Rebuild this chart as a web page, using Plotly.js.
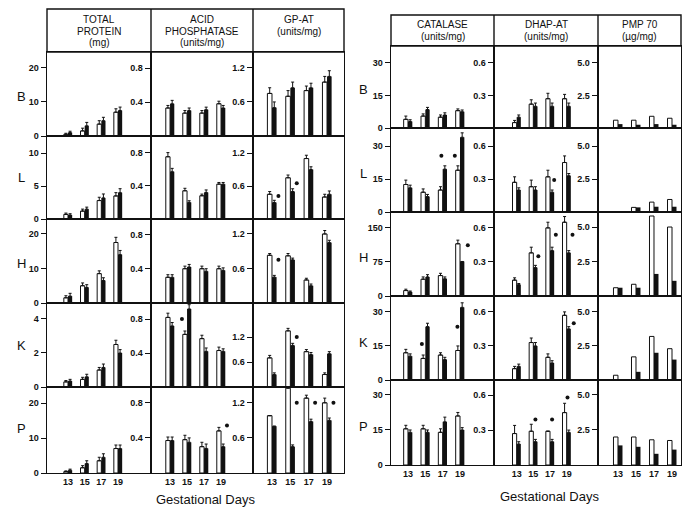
<!DOCTYPE html>
<html><head><meta charset="utf-8">
<script src="https://cdn.plot.ly/plotly-3.0.1.min.js"></script>
<style>html,body{margin:0;padding:0;background:#fff}#c{width:682px;height:508px}</style>
</head><body><div id="c"></div><script>
const W=682,H=508;
const days=[13,15,17,19];
const dayLabels=['13','15','17','19'];
const tissues=['B','L','H','K','P'];

// TOTAL PROTEIN (mg)
const protWhite=[[0.5,1.5,3.5,7],[0.7,1.2,2.8,3.5],[1.5,5,8.5,17.5],[0.3,0.45,1.0,2.5],[0.4,1.5,3.5,7]];
const protBlack=[[1.0,3,4.5,7.5],[0.6,1.5,3.2,4.0],[2,4.5,6.5,14],[0.35,0.6,1.15,2.0],[0.8,2.7,4.5,7]];
const protErrW=[[0.3,0.8,1,1],[0.2,0.3,0.5,0.5],[0.6,0.8,0.8,1.5],[0.08,0.12,0.15,0.25],[0.2,0.6,1,1]];
const protErrB=[[0.4,1,1,1],[0.2,0.3,0.6,0.6],[0.8,0.8,0.8,1.2],[0.1,0.15,0.2,0.2],[0.3,0.8,1,1]];
const protStars=[];
const protTicks=[[0,10,20],[0,5,10],[0,10,20],[0,2,4],[0,10,20]];
const protTickText=[['0','10','20'],['0','5','10'],['0','10','20'],['0','2','4'],['0','10','20']];

// ACID PHOSPHATASE (units/mg)
const apWhite=[[0.33,0.27,0.27,0.38],[0.75,0.34,0.28,0.42],[0.30,0.40,0.40,0.40],[0.82,0.62,0.57,0.43],[0.37,0.38,0.30,0.48]];
const apBlack=[[0.38,0.30,0.31,0.33],[0.57,0.20,0.32,0.42],[0.30,0.42,0.37,0.38],[0.72,0.92,0.42,0.42],[0.37,0.35,0.28,0.30]];
const apErrW=[[0.03,0.03,0.03,0.03],[0.05,0.03,0.02,0.02],[0.03,0.03,0.03,0.03],[0.05,0.04,0.04,0.04],[0.04,0.05,0.05,0.04]];
const apErrB=[[0.04,0.03,0.03,0.03],[0.04,0.02,0.03,0.02],[0.03,0.03,0.03,0.03],[0.04,0.05,0.04,0.03],[0.04,0.05,0.05,0.03]];
const apStars=[[3,15,-0.6,0.8],[4,19,0.7,0.54]];
const apTicks=[0.4,0.8];
const apTickText=['0.4','0.8'];

// GP-AT (units/mg)
const gpWhite=[[0.75,0.70,0.80,0.95],[0.45,0.75,1.10,0.40],[0.83,0.82,0.40,1.20],[0.70,1.35,0.85,0.30],[0.98,1.45,1.28,1.20]];
const gpBlack=[[0.50,0.85,0.85,1.05],[0.30,0.50,0.90,0.45],[0.45,0.75,0.30,1.05],[0.30,1.00,0.78,0.80],[0.80,0.45,0.88,0.90]];
const gpErrW=[[0.10,0.10,0.08,0.10],[0.05,0.05,0.06,0.05],[0.03,0.04,0.03,0.06],[0.06,0.06,0.05,0.04],[0.00,0.05,0.05,0.08]];
const gpErrB=[[0.10,0.10,0.08,0.10],[0.04,0.05,0.05,0.06],[0.03,0.03,0.03,0.04],[0.04,0.05,0.05,0.05],[0.00,0.03,0.04,0.04]];
const gpStars=[[1,13,0.7,0.42],[1,15,0.7,0.65],[2,13,0.7,0.75],[3,15,0.7,1.2],[4,15,0.7,1.2],[4,17,0.7,1.2],[4,19,0.7,1.2]];
const gpTicks=[0.6,1.2];
const gpTickText=['0.6','1.2'];

// CATALASE (units/mg)
const catWhite=[[4,5.5,5,8],[12.5,9,10,19],[12,37,45,115],[12,9.5,11,13],[15.5,15.5,14,21]];
const catBlack=[[3,8.5,6,7.5],[11,7,19.5,34],[9,42,38,76],[10.5,23.5,9,32],[14,14,18.5,15]];
const catErrW=[[1.5,1,1,0.8],[2,1.5,1.5,2],[3,5,5,8],[1.5,1.5,1,2],[1.5,1.5,1.5,1.5]];
const catErrB=[[0.8,1,1,0.8],[1.2,1,1.5,2],[2,5,4,0],[1,1.5,1,2],[1,1,2,1]];
const catStars=[[1,17,-0.15,25.6],[1,19,-0.6,25.6],[2,19,0.9,112],[3,15,-0.4,15.9],[3,19,-0.3,23.5]];
const catTicks=[[0,15,30],[0,15,30],[0,75,150],[0,15,30],[0,15,30]];
const catTickText=[['0','15','30'],['0','15','30'],['0','75','150'],['0','15','30'],['0','15','30']];

// DHAP-AT (units/mg)
const dhWhite=[[0.05,0.22,0.27,0.27],[0.27,0.23,0.32,0.45],[0.14,0.38,0.60,0.65],[0.10,0.33,0.20,0.57],[0.27,0.29,0.29,0.45]];
const dhBlack=[[0.10,0.20,0.20,0.20],[0.20,0.20,0.18,0.33],[0.10,0.25,0.40,0.38],[0.12,0.30,0.15,0.45],[0.18,0.20,0.20,0.28]];
const dhErrW=[[0.02,0.04,0.05,0.04],[0.05,0.06,0.06,0.06],[0.02,0.05,0.05,0.05],[0.02,0.04,0.03,0.03],[0.07,0.06,0.00,0.08]];
const dhErrB=[[0.02,0.03,0.03,0.03],[0.02,0.03,0.02,0.02],[0.01,0.02,0.03,0.02],[0.02,0.03,0.02,0.02],[0.02,0.02,0.02,0.02]];
const dhStars=[[1,17,0.5,0.29],[2,15,0.6,0.35],[2,17,0.7,0.54],[2,19,0.7,0.54],[3,19,0.85,0.5],[4,15,0.25,0.39],[4,17,0.25,0.39],[4,19,0.1,0.58]];
const dhTicks=[0.3,0.6];
const dhTickText=['0.3','0.6'];

// PMP 70 (µg/mg)
const pmWhite=[[0.6,0.6,0.9,0.75],[0,0.35,0.75,0.95],[0.6,0.85,5.8,5.0],[0.35,1.7,3.2,2.3],[2.0,2.0,1.8,1.75]];
const pmBlack=[[0.3,0.25,0.3,0.25],[0,0.35,0.4,0.4],[0.6,0.6,1.6,1.1],[0,0.6,2.0,1.5],[1.4,1.3,0.8,1.1]];
const pmStars=[];
const pmTicks=[2.5,5.0];
const pmTickText=['2.5','5.0'];

// headers
const protHeader=['TOTAL','PROTEIN','(mg)'];
const apHeader=['ACID','PHOSPHATASE','(units/mg)'];
const gpHeader=['GP-AT','(units/mg)'];
const catHeader=['CATALASE','(units/mg)'];
const dhHeader=['DHAP-AT','(units/mg)'];
const pmHeader=['PMP 70','(µg/mg)'];
const xTitle='Gestational Days';

// layout geometry (pixels)
const leftX=[47,151,253,344], leftRows=[52,136,219,303,387,473], leftHead=[9,52];
const rightX=[391,494,598,681], rightRows=[46,128,212,296,380,465], rightHead=[15,46];
const xRanges=[[10.48,22.96],[10.76,22.76],[10.93,20.85],[11.04,22.92],[10.28,22.76],[10.78,20.0]];
const yTops=[[24.7,12.6,24.3,4.94,24.6],[0.99,1.0,0.98,0.99,0.98],[1.48,1.51,1.46,2.02,1.47],
             [37.8,38.2,185,37,36.4],[0.756,0.764,0.74,0.74,0.73],[6.3,6.37,6.09,6.17,6.07]];

const measures=[
 {w:protWhite,b:protBlack,ew:protErrW,eb:protErrB,st:protStars,tv:protTicks,tt:protTickText,perRow:true,head:protHeader},
 {w:apWhite,b:apBlack,ew:apErrW,eb:apErrB,st:apStars,tv:apTicks,tt:apTickText,perRow:false,head:apHeader},
 {w:gpWhite,b:gpBlack,ew:gpErrW,eb:gpErrB,st:gpStars,tv:gpTicks,tt:gpTickText,perRow:false,head:gpHeader},
 {w:catWhite,b:catBlack,ew:catErrW,eb:catErrB,st:catStars,tv:catTicks,tt:catTickText,perRow:true,head:catHeader},
 {w:dhWhite,b:dhBlack,ew:dhErrW,eb:dhErrB,st:dhStars,tv:dhTicks,tt:dhTickText,perRow:false,head:dhHeader},
 {w:pmWhite,b:pmBlack,ew:null,eb:null,st:pmStars,tv:pmTicks,tt:pmTickText,perRow:false,head:pmHeader}
];

const FONT='Liberation Sans, Arial, Helvetica, sans-serif';
const px=x=>x/W, py=y=>1-y/H;
const data=[], layout={
  width:W,height:H,margin:{l:0,r:0,t:0,b:0},paper_bgcolor:'#fff',plot_bgcolor:'#fff',
  showlegend:false,barmode:'group',bargap:0.5,bargroupgap:0,
  font:{family:FONT,color:'#111'},shapes:[],annotations:[]
};
const zeros=[0,0,0,0];
measures.forEach((m,k)=>{
  const right=k>=3, col=k%3;
  const xe=right?rightX:leftX, rows=right?rightRows:leftRows;
  for(let r=0;r<5;r++){
    const idx=k*5+r+1, s=idx===1?'':String(idx);
    layout['xaxis'+s]={domain:[px(xe[col]),px(xe[col+1])],anchor:'y'+s,range:xRanges[k],
      showline:true,mirror:true,linecolor:'#111',linewidth:1.4,showgrid:false,zeroline:false,ticks:'',
      tickvals:days,ticktext:dayLabels,showticklabels:r===4,tickfont:{size:9,family:FONT,weight:'bold'},fixedrange:true};
    layout['yaxis'+s]={domain:[py(rows[r+1]),py(rows[r])],anchor:'x'+s,range:[0,yTops[k][r]],
      showline:true,mirror:true,linecolor:'#111',linewidth:1.4,showgrid:false,zeroline:false,
      ticks:'outside',ticklen:5,tickwidth:1,tickcolor:'#111',
      tickvals:m.perRow?m.tv[r]:m.tv,ticktext:m.perRow?m.tt[r]:m.tt,
      tickfont:{size:9,family:FONT,weight:'bold'},fixedrange:true};
    const eW=m.ew?{type:'data',array:m.ew[r],arrayminus:zeros,symmetric:false,color:'#111',thickness:1,width:1.5}:{visible:false};
    const eB=m.eb?{type:'data',array:m.eb[r],arrayminus:zeros,symmetric:false,color:'#111',thickness:1,width:1.5}:{visible:false};
    data.push({type:'bar',x:days,y:m.w[r],xaxis:'x'+s,yaxis:'y'+s,marker:{color:'#fff',line:{color:'#111',width:1}},error_y:eW,hoverinfo:'skip'});
    data.push({type:'bar',x:days,y:m.b[r],xaxis:'x'+s,yaxis:'y'+s,marker:{color:'#111',line:{color:'#111',width:0}},error_y:eB,hoverinfo:'skip'});
    const st=m.st.filter(a=>a[0]===r);
    if(st.length) data.push({type:'scatter',mode:'markers',x:st.map(a=>a[1]+a[2]),y:st.map(a=>a[3]),xaxis:'x'+s,yaxis:'y'+s,
      marker:{symbol:'circle',size:4,color:'#111'},hoverinfo:'skip',cliponaxis:false});
  }
  // header
  const cx=(xe[col]+xe[col+1])/2;
  const lineY=right?[24,37]:(m.head.length===3?[19,31,43]:[19,31]);
  m.head.forEach((t,i)=>{
    layout.annotations.push({xref:'paper',yref:'paper',x:px(cx),y:py(lineY[i]),text:t,showarrow:false,
      xanchor:'center',yanchor:'middle',font:{size:10,family:FONT,color:'#111'}});
  });
});
// header boxes
[[leftX,leftHead],[rightX,rightHead]].forEach(([xe,hd])=>{
  layout.shapes.push({type:'rect',xref:'paper',yref:'paper',x0:px(xe[0]),x1:px(xe[3]),y0:py(hd[1]),y1:py(hd[0]),line:{color:'#111',width:1.4}});
  [1,2].forEach(i=>layout.shapes.push({type:'line',xref:'paper',yref:'paper',x0:px(xe[i]),x1:px(xe[i]),y0:py(hd[1]),y1:py(hd[0]),line:{color:'#111',width:1.4}}));
});
// row labels
const leftLabelY=[96,177,263,345,428], rightLabelY=[89,173,257,342,426];
tissues.forEach((t,i)=>{
  layout.annotations.push({xref:'paper',yref:'paper',x:px(21),y:py(leftLabelY[i]),text:t,showarrow:false,xanchor:'center',yanchor:'middle',font:{size:13,family:FONT,color:'#111'}});
  layout.annotations.push({xref:'paper',yref:'paper',x:px(363),y:py(rightLabelY[i]),text:t,showarrow:false,xanchor:'center',yanchor:'middle',font:{size:13,family:FONT,color:'#111'}});
});
layout.annotations.push({xref:'paper',yref:'paper',x:px(205),y:py(499),text:xTitle,showarrow:false,xanchor:'center',yanchor:'middle',font:{size:13,family:FONT,color:'#111'}});
layout.annotations.push({xref:'paper',yref:'paper',x:px(549),y:py(496),text:xTitle,showarrow:false,xanchor:'center',yanchor:'middle',font:{size:13,family:FONT,color:'#111'}});

Plotly.newPlot('c',data,layout,{displayModeBar:false,staticPlot:true});
</script></body></html>
